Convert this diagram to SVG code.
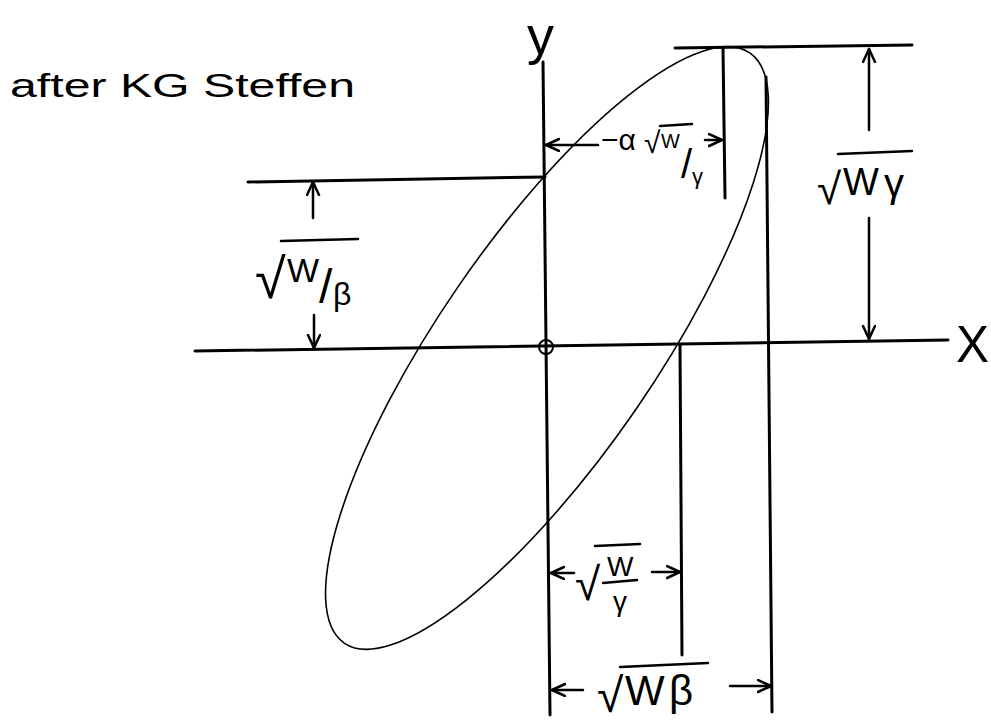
<svg xmlns="http://www.w3.org/2000/svg" width="991" height="728" viewBox="0 0 991 728">
<defs>
<style>
.ln{stroke:#000;stroke-width:3;fill:none;stroke-linecap:round}
.dim{stroke:#000;stroke-width:2.5;fill:none;stroke-linecap:round;marker-end:url(#ah)}
.t{font-family:"Liberation Sans","DejaVu Sans",sans-serif;fill:#000}
.bar{stroke:#000;stroke-width:2.5;stroke-linecap:round}
</style>
<marker id="ah" markerUnits="userSpaceOnUse" markerWidth="18" markerHeight="16" refX="14" refY="7" orient="auto">
<path d="M1,1 L14,7 L1,13" fill="none" stroke="#000" stroke-width="2.5" stroke-linecap="round" stroke-linejoin="round"/>
</marker>
</defs>
<rect width="991" height="728" fill="#fff"/>

<g id="credit"><text class="t" x="10" y="97" font-size="34" textLength="345" lengthAdjust="spacingAndGlyphs">after KG Steffen</text></g>

<g id="axes">
<line class="ln" x1="543" y1="62" x2="550" y2="715"/>
<line class="ln" x1="195" y1="351" x2="948" y2="340"/>
<circle cx="546" cy="347" r="7" fill="none" stroke="#000" stroke-width="2"/>
<text class="t" x="527" y="54" font-size="54">y</text>
<text class="t" x="956" y="362" font-size="52" textLength="33" lengthAdjust="spacingAndGlyphs">X</text>
</g>

<g id="extension-lines">
<line class="ln" x1="248" y1="182" x2="545" y2="177"/>
<line class="ln" x1="675" y1="48" x2="912" y2="45"/>
<line class="ln" x1="723" y1="48" x2="725" y2="198"/>
<line class="ln" x1="766" y1="77" x2="772" y2="712"/>
<line class="ln" x1="680" y1="345" x2="682" y2="655"/>
</g>

<g id="ellipse">
<ellipse cx="547" cy="348" rx="358" ry="108" transform="rotate(-55.5 547 348)" fill="none" stroke="#000" stroke-width="1.6"/>
</g>

<g id="connectors">
<line class="dim" x1="598" y1="145" x2="546" y2="145"/>
<line class="dim" x1="705" y1="140" x2="722" y2="140"/>
<line class="dim" x1="869" y1="130" x2="869" y2="49"/>
<line class="dim" x1="869" y1="218" x2="869" y2="339"/>
<line class="dim" x1="313" y1="218" x2="313" y2="182"/>
<line class="dim" x1="314" y1="315" x2="314" y2="348"/>
<line class="dim" x1="574" y1="573" x2="551" y2="573"/>
<line class="dim" x1="652" y1="572" x2="680" y2="572"/>
<line class="dim" x1="583" y1="690" x2="552" y2="690"/>
<line class="dim" x1="730" y1="686" x2="771" y2="686"/>
</g>

<g id="label-alpha">
<line class="bar" x1="660" y1="126" x2="692" y2="124"/>
<text class="t" x="601" y="150" font-size="30">−α<tspan x="644" y="153" font-size="30">√</tspan><tspan x="661" y="148" font-size="20">W</tspan><tspan x="681" y="178" font-size="40">/</tspan><tspan x="692" y="184" font-size="22">γ</tspan></text>
</g>

<g id="label-sqrt-w-beta-left">
<line class="bar" x1="281" y1="241" x2="358" y2="239"/>
<text class="t" x="255" y="298" font-size="56">√<tspan x="287" y="282" font-size="34">W</tspan><tspan x="319" y="303" font-size="48">/</tspan><tspan x="333" y="305" font-size="32">β</tspan></text>
</g>

<g id="label-sqrt-w-gamma-right">
<line class="bar" x1="838" y1="154" x2="912" y2="151"/>
<text class="t" x="817" y="204" font-size="44">√<tspan x="843" y="195" font-size="38">W</tspan><tspan x="884" y="197" font-size="40">γ</tspan></text>
</g>

<g id="label-sqrt-w-over-gamma">
<line class="bar" x1="595" y1="546" x2="640" y2="544"/>
<line class="bar" x1="603" y1="583" x2="637" y2="580"/>
<text class="t" x="575" y="600" font-size="46">√<tspan x="607" y="576" font-size="28">W</tspan><tspan x="613" y="611" font-size="28">γ</tspan></text>
</g>

<g id="label-sqrt-w-beta-bottom">
<line class="bar" x1="620" y1="667" x2="708" y2="663"/>
<text class="t" x="597" y="712" font-size="48">√<tspan x="625" y="705" font-size="42">W</tspan><tspan x="669" y="705" font-size="42">β</tspan></text>
</g>
</svg>
